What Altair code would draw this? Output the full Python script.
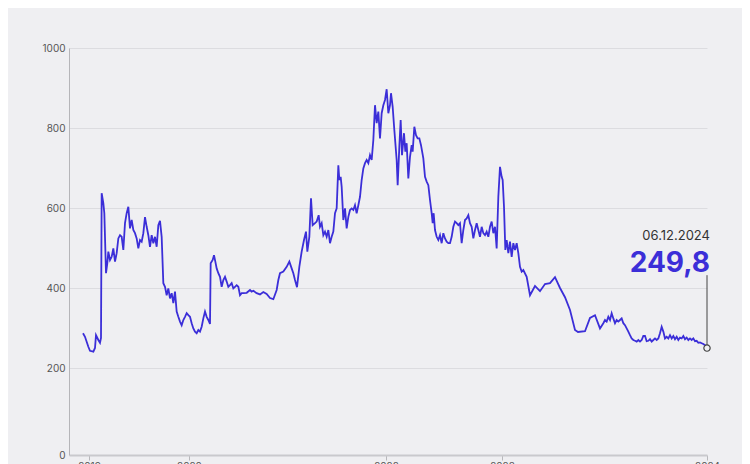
import altair as alt
import pandas as pd

# ---- data (days after START, closing value) ----
START = "2019-10-22"
DAYS = [0, 6, 16, 21, 31, 36, 39, 46, 51, 54, 56, 61, 64, 69, 73, 76, 81, 86, 91, 96,
        101, 106, 111, 116, 121, 126, 131, 136, 141, 146, 151, 156, 161, 166, 171, 176, 181, 186, 191, 196,
        201, 206, 211, 216, 221, 226, 231, 236, 241, 246, 251, 256, 261, 266, 271, 276, 281, 286, 291, 296,
        301, 306, 311, 316, 321, 326, 331, 336, 341, 346, 351, 356, 361, 366, 371, 376, 381, 383, 389, 393,
        397, 401, 406, 411, 416, 421, 426, 431, 436, 441, 446, 451, 456, 461, 466, 471, 476, 481, 491, 501,
        506, 511, 521, 531, 541, 551, 561, 571, 581, 586, 591, 601, 611, 619, 626, 631, 636, 642, 649, 656,
        663, 669, 673, 679, 684, 689, 696, 701, 707, 711, 716, 721, 726, 731, 736, 741, 746, 751, 756, 761,
        766, 769, 773, 776, 781, 786, 791, 796, 801, 806, 811, 816, 821, 826, 831, 836, 841, 846, 851, 856,
        861, 866, 871, 876, 881, 886, 891, 896, 901, 906, 911, 916, 921, 924, 929, 934, 941, 944, 949, 953,
        957, 963, 967, 971, 976, 981, 986, 989, 994, 999, 1004, 1009, 1014, 1021, 1026, 1031, 1036, 1041, 1046, 1049,
        1052, 1056, 1061, 1066, 1071, 1076, 1081, 1086, 1091, 1096, 1101, 1106, 1111, 1116, 1121, 1126, 1131, 1136, 1141, 1146,
        1151, 1156, 1161, 1166, 1171, 1176, 1181, 1186, 1191, 1196, 1201, 1206, 1211, 1216, 1221, 1226, 1231, 1236, 1241, 1246,
        1251, 1256, 1259, 1263, 1267, 1271, 1276, 1281, 1286, 1291, 1296, 1301, 1306, 1311, 1316, 1321, 1331, 1341, 1356, 1371,
        1386, 1401, 1416, 1431, 1446, 1461, 1476, 1485, 1506, 1521, 1536, 1551, 1561, 1566, 1571, 1576, 1581, 1586, 1591, 1596,
        1601, 1606, 1611, 1616, 1621, 1626, 1631, 1636, 1641, 1646, 1651, 1656, 1661, 1666, 1671, 1676, 1681, 1686, 1691, 1696,
        1701, 1706, 1711, 1716, 1721, 1726, 1731, 1736, 1741, 1746, 1751, 1756, 1761, 1766, 1771, 1776, 1781, 1786, 1791, 1796,
        1801, 1806, 1811, 1816, 1821, 1826, 1831, 1836, 1841, 1846, 1851, 1856, 1861, 1866, 1872]
VALUES = [287, 278, 253, 243, 241, 250, 282, 270, 263, 275, 637, 612, 587, 437, 462, 491, 470, 478, 499, 466,
          487, 524, 532, 528, 495, 562, 587, 603, 549, 570, 545, 537, 524, 499, 520, 516, 537, 577, 553, 532,
          503, 532, 512, 528, 503, 557, 568, 528, 412, 403, 382, 399, 374, 387, 362, 391, 341, 328, 316, 307,
          320, 328, 337, 332, 328, 312, 299, 291, 287, 295, 291, 303, 324, 341, 328, 320, 310, 462, 470, 482,
          466, 449, 437, 428, 403, 420, 428, 416, 403, 407, 412, 399, 403, 407, 403, 382, 387, 387, 388, 395,
          391, 393, 387, 384, 390, 385, 375, 372, 395, 420, 437, 441, 453, 466, 449, 437, 420, 402, 453, 491,
          520, 541, 491, 528, 624, 557, 562, 566, 582, 553, 562, 532, 541, 528, 545, 512, 528, 541, 587, 599,
          707, 670, 678, 653, 570, 599, 549, 578, 595, 599, 595, 607, 587, 607, 628, 670, 699, 712, 720, 712,
          732, 720, 770, 857, 812, 841, 774, 837, 857, 870, 897, 837, 857, 887, 853, 795, 720, 657, 753, 820,
          732, 787, 741, 762, 674, 728, 757, 741, 803, 782, 774, 774, 757, 724, 678, 666, 657, 620, 587, 562,
          587, 545, 528, 520, 532, 512, 537, 524, 516, 512, 512, 528, 553, 566, 562, 557, 562, 512, 545, 570,
          574, 582, 562, 553, 524, 545, 562, 545, 528, 553, 537, 532, 541, 528, 553, 566, 537, 553, 499, 628,
          703, 678, 670, 603, 495, 520, 487, 516, 478, 512, 495, 512, 487, 453, 441, 445, 428, 382, 405, 392,
          410, 412, 427, 400, 377, 345, 295, 290, 292, 325, 332, 299, 312, 320, 316, 328, 320, 337, 324, 312,
          320, 316, 320, 324, 312, 307, 299, 291, 282, 274, 270, 268, 266, 270, 266, 270, 280, 280, 267, 268,
          272, 266, 270, 274, 270, 274, 287, 303, 291, 274, 278, 274, 282, 274, 280, 272, 278, 270, 276, 274,
          280, 272, 276, 270, 274, 270, 274, 267, 268, 263, 264, 262, 260, 257, 249.8]

LAST_DATE_LABEL = "06.12.2024"
LAST_VALUE_LABEL = "249,8"
ANNOT_TOP = 432
Y_TICKS = [0, 200, 400, 600, 800, 1000]
X_TICKS = [(2019, 11, 9), (2020, 9, 4), (2022, 4, 18), (2023, 4, 1), (2024, 12, 6)]

BLUE = "#3b2ed8"
BG = "#efeff2"
FONT = "Inter"

df = pd.DataFrame({
    "date": pd.to_datetime(START) + pd.to_timedelta(DAYS, unit="D"),
    "value": VALUES,
})
last = df.tail(1).copy()
last["top"] = ANNOT_TOP
last["vlabel"] = LAST_VALUE_LABEL
last["dlabel"] = LAST_DATE_LABEL

x_scale = alt.Scale(domain=[alt.DateTime(year=2019, month=9, date=10),
                            alt.DateTime(year=2024, month=12, date=6)])
y_scale = alt.Scale(domain=[-17.5, 1000], nice=False, zero=False)

x_axis = alt.Axis(
    values=[alt.DateTime(year=y, month=m, date=d) for (y, m, d) in X_TICKS],
    format="%Y", title=None, grid=False,
    domainColor="#c9c9cd", domainWidth=2,
    tickColor="#b8b8bc", tickSize=5, tickWidth=1,
    labelPadding=1, labelFontSize=10, labelColor="#555555", labelFont=FONT,
    labelFlush=False,
)
y_axis = alt.Axis(
    values=Y_TICKS, format="d", title=None, ticks=False,
    domainColor="#b5b5b9", domainWidth=1,
    gridColor="#dcdce0",
    gridOpacity={"condition": {"test": "datum.value === 0", "value": 0}, "value": 1},
    labelOffset={"condition": {"test": "datum.value === 0", "value": 7}, "value": 0},
    labelPadding=4, labelFontSize=10, labelColor="#555555", labelFont=FONT,
)

line = alt.Chart(df).mark_line(color=BLUE, strokeWidth=1.8).encode(
    x=alt.X("date:T", scale=x_scale, axis=x_axis),
    y=alt.Y("value:Q", scale=y_scale, axis=y_axis),
)

base = alt.Chart(last)
rule = base.mark_rule(color="#444444", strokeWidth=1).encode(
    x="date:T", y="value:Q", y2="top:Q")
dot = base.mark_point(shape="circle", size=40, filled=True, fill=BG,
                      stroke="#444444", strokeWidth=1.2, opacity=1).encode(
    x="date:T", y="value:Q")
vtext = base.mark_text(align="right", baseline="alphabetic", dx=3, dy=-3,
                       font=FONT, fontSize=28, fontWeight="bold", color=BLUE).encode(
    x="date:T", y="top:Q", text="vlabel:N")
dtext = base.mark_text(align="right", baseline="alphabetic", dx=3, dy=-35,
                       font=FONT, fontSize=13, color="#333333").encode(
    x="date:T", y="top:Q", text="dlabel:N")

chart = alt.layer(line, rule, dot, vtext, dtext).properties(
    width=638, height=407,
    autosize=alt.AutoSizeParams(type="none"),
    padding={"left": 61, "top": 40, "right": 35, "bottom": 9},
    background=BG,
).configure_view(stroke=None)

chart.save("out.html", embed_options={"renderer": "svg", "actions": False})
